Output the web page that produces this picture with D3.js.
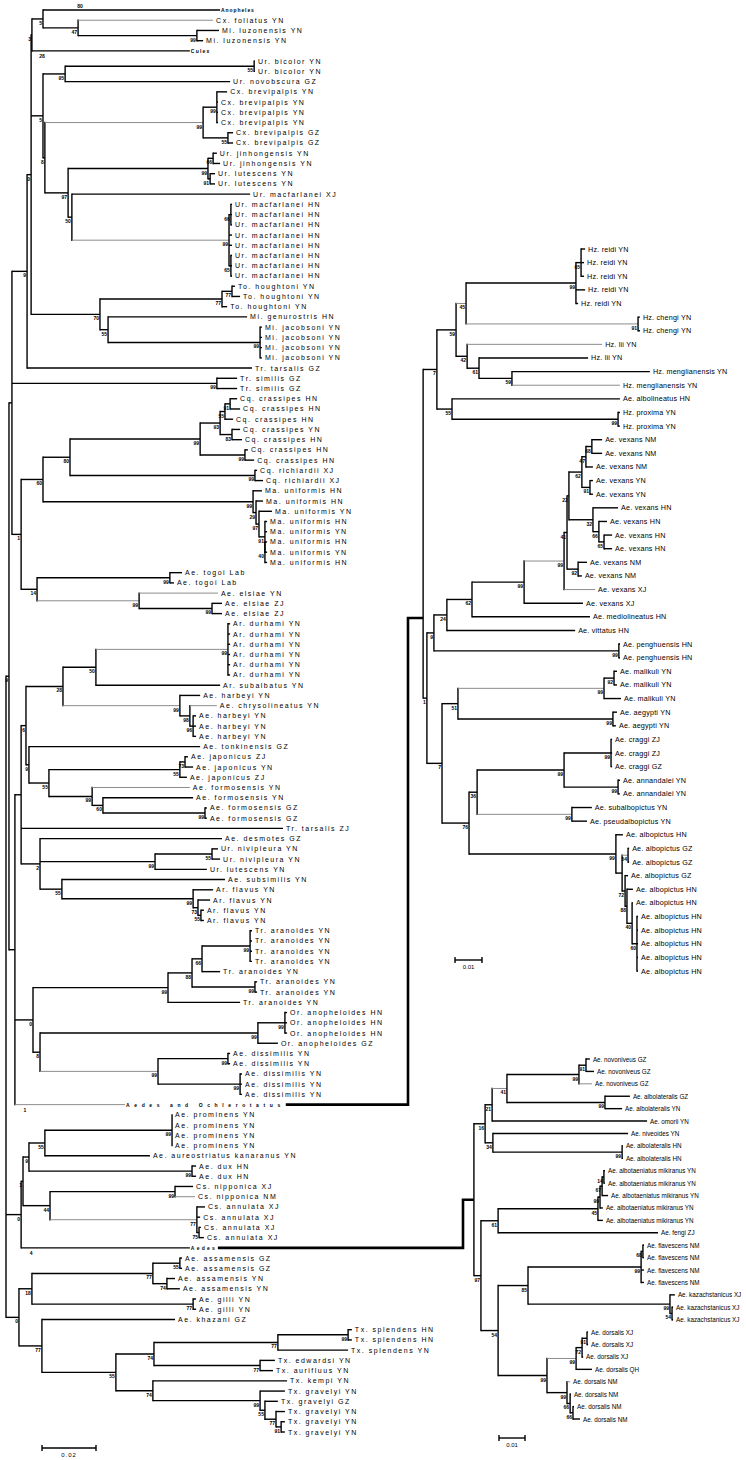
<!DOCTYPE html>
<html><head><meta charset="utf-8">
<script src="https://cdn.jsdelivr.net/npm/d3@7/dist/d3.min.js"></script>
<style>body{margin:0;background:#fff}</style>
</head><body>
<svg id="c" width="746" height="1460"></svg>
<script>
// ---- DATA: branch depths in units of 0.001 substitutions/site ----
// node = [depth, support, [children]] ; leaf = [depth, name]
const cladeUranotaenia = [9.3,"0",[
  [9.6,"3",[
    [13.7,"5",[
      [79.3,"Anopheles"],
      [26.7,"47",[[76.7,"Cx. foliatus YN"],[70.7,"99",[[78.9,"Mi. luzonensis YN"],[73,"Mi. luzonensis YN"]]]]]
    ]],
    [68.1,"Culex"]
  ]],
  [13.7,"5",[
    [21.9,"95",[[91.9,"55",[[92.2,"Ur. bicolor YN"],[92.2,"Ur. bicolor YN"]]],[83,"Ur. novobscura GZ"]]],
    [14.4,"8",[
      [73,"99",[
        [78.1,"99",[[81.9,"Cx. brevipalpis YN"],[78.5,"Cx. brevipalpis YN"],[78.5,"Cx. brevipalpis YN"],[78.5,"Cx. brevipalpis YN"]]],
        [82.2,"55",[[84.1,"Cx. brevipalpis GZ"],[84.1,"Cx. brevipalpis GZ"]]]
      ]],
      [23,"97",[
        [74.8,"99",[
          [76.7,"66",[[78.1,"Ur. jinhongensis YN"],[79.3,"Ur. jinhongensis YN"]]],
          [75.6,"91",[[77.4,"Ur. lutescens YN"],[77.4,"Ur. lutescens YN"]]]
        ]],
        [24.4,"50",[
          [90.4,"Ur. macfarlanei XJ"],
          [82.6,"99",[
            [83.3,"66",[[83.7,"Ur. macfarlanei HN"],[83.7,"Ur. macfarlanei HN"],[83.7,"Ur. macfarlanei HN"]]],
            [83.7,"Ur. macfarlanei HN"],[83.7,"Ur. macfarlanei HN"],
            [83.3,"65",[[83.7,"Ur. macfarlanei HN"],[83.7,"Ur. macfarlanei HN"],[83.7,"Ur. macfarlanei HN"]]]
          ]]
        ]]
      ]]
    ]]
  ]],
  [34.8,"70",[
    [80,"77",[[83.7,"77",[[84.8,"To. houghtoni YN"],[86.7,"To. houghtoni YN"]]],[81.9,"To. houghtoni YN"]]],
    [37.8,"55",[[89.3,"Mi. genurostris HN"],[94.1,"99",[[94.8,"Mi. jacobsoni YN"],[94.8,"Mi. jacobsoni YN"],[94.8,"Mi. jacobsoni YN"],[94.8,"Mi. jacobsoni YN"]]]]]
  ]]
]];
const cladeCoquillettidia = [5.6,"1",[
  [13.7,"60",[
    [23.7,"80",[
      [71.9,"99",[
        [79.3,"93",[
          [81.1,"55",[[83,"91",[[85.6,"Cq. crassipes HN"],[86.7,"Cq. crassipes HN"]]],[84.1,"Cq. crassipes HN"]]],
          [83.7,"83",[[86.7,"Cq. crassipes YN"],[87.4,"Cq. crassipes HN"]]]
        ]],
        [88.5,"99",[[89.6,"Cq. crassipes HN"],[91.9,"Cq. crassipes HN"]]]
      ]],
      [92.2,"99",[[93,"Cq. richiardii XJ"],[95.2,"Cq. richiardii XJ"]]]
    ]],
    [91.5,"99",[
      [94.8,"Ma. uniformis HN"],
      [92.6,"29",[
        [95.2,"Ma. uniformis HN"],
        [93.7,"97",[
          [98.5,"Ma. uniformis YN"],
          [95.9,"91",[[96.7,"Ma. uniformis HN"],[96.7,"Ma. uniformis YN"],
            [95.9,"40",[[96.7,"Ma. uniformis HN"],[96.7,"Ma. uniformis YN"],[96.7,"Ma. uniformis HN"]]]]]
        ]]
      ]]
    ]]
  ]],
  [11.5,"14",[
    [60.7,"99",[[65.2,"Ae. togoi Lab"],[62.2,"Ae. togoi Lab"]]],
    [49.3,"99",[[78.5,"Ae. elsiae YN"],[76.3,"99",[[80,"Ae. elsiae ZJ"],[80,"Ae. elsiae ZJ"]]]]]
  ]]
]];
const cladeArmigeres = [5.6,"",[
  [7.4,"6",[
    [21.1,"28",[
      [33.3,"50",[[82.2,"99",[[83,"Ar. durhami YN"],[83,"Ar. durhami YN"],[83,"Ar. durhami YN"],[83,"Ar. durhami YN"],[83,"Ar. durhami YN"],[83,"Ar. durhami YN"]]],[79.3,"Ar. subalbatus YN"]]],
      [64.4,"99",[[71.9,"Ae. harbeyi YN"],[68.1,"98",[[78.1,"Ae. chrysolineatus YN"],[69.3,"96",[[70.4,"Ae. harbeyi YN"],[70.4,"Ae. harbeyi YN"],[70.4,"Ae. harbeyi YN"]]]]]]]
    ]],
    [8.5,"9",[
      [71.9,"Ae. tonkinensis GZ"],
      [15.9,"55",[
        [64.4,"55",[[66.3,"73",[[67.4,"Ae. japonicus ZJ"],[69.3,"Ae. japonicus YN"]]],[67,"Ae. japonicus ZJ"]]],
        [31.9,"99",[[68.1,"Ae. formosensis YN"],[35.9,"60",[[69.3,"Ae. formosensis YN"],[73.7,"99",[[74.4,"Ae. formosensis GZ"],[74.4,"Ae. formosensis GZ"]]]]]]]
      ]]
    ]]
  ]],
  [102.6,"Tr. tarsalis ZJ"],
  [12.6,"2",[
    [80,"Ae. desmotes GZ"],
    [55.2,"99",[[76.3,"55",[[78.5,"Ur. nivipleura YN"],[79.3,"Ur. nivipleura YN"]]],[74.4,"Ur. lutescens YN"]]],
    [20.7,"55",[[81.1,"Ae. subsimilis YN"],[69.3,"99",[[76.7,"Ar. flavus YN"],[71.1,"73",[[75.6,"Ar. flavus YN"],[72.2,"55",[[73.3,"Ar. flavus YN"],[73.3,"Ar. flavus YN"]]]]]]]]]
  ]]
]];
const cladeTripteroides = [10,"0",[
  [60,"99",[
    [68.9,"88",[
      [72.6,"66",[[90.4,"99",[[91.1,"Tr. aranoides YN"],[91.1,"Tr. aranoides YN"],[91.1,"Tr. aranoides YN"],[91.1,"Tr. aranoides YN"]]],[79.3,"Tr. aranoides YN"]]],
      [92.2,"99",[[93,"Tr. aranoides YN"],[93,"Tr. aranoides YN"]]]
    ]],
    [86.7,"Tr. aranoides YN"]
  ]],
  [12.6,"8",[
    [93.3,"99",[[103.3,"99",[[104.1,"Or. anopheloides HN"],[104.1,"Or. anopheloides HN"],[104.1,"Or. anopheloides HN"]]],[100.7,"Or. anopheloides GZ"]]],
    [56.3,"99",[[82.2,"99",[[83,"Ae. dissimilis YN"],[83,"Ae. dissimilis YN"]]],[86.7,"99",[[87.4,"Ae. dissimilis YN"],[87.4,"Ae. dissimilis YN"],[87.4,"Ae. dissimilis YN"]]]]]
  ]]
]];
const cladeCulisetaProminens = [5.6,"0",[
  [6.3,"1",[
    [8.5,"9",[
      [14.4,"55",[[61.5,"99",[[61.5,"Ae. prominens YN"],[61.5,"Ae. prominens YN"],[61.5,"Ae. prominens YN"],[61.5,"Ae. prominens YN"]]],[53.3,"Ae. aureostriatus kanaranus YN"]]],
      [68.9,"99",[[70.4,"Ae. dux HN"],[70.4,"Ae. dux HN"]]]
    ]],
    [16.3,"44",[
      [62.6,"99",[[69.3,"Cs. nipponica XJ"],[70,"Cs. nipponica NM"]]],
      [70.7,"77",[[73.7,"Cs. annulata XJ"],[71.9,"Cs. annulata XJ"],[71.5,"75",[[72.2,"Cs. annulata XJ"],[73.3,"Cs. annulata XJ"]]]]]
    ]]
  ]],
  [68.1,"Aedes"]
]];
const cladeToxorhynchites = [4.8,"0",[
  [9.6,"18",[
    [54.4,"77",[[64.4,"55",[[65.2,"Ae. assamensis GZ"],[65.2,"Ae. assamensis GZ"]]],[59.6,"74",[[62.6,"Ae. assamensis YN"],[64.4,"Ae. assamensis YN"]]]]],
    [69.3,"77",[[70.4,"Ae. gilli YN"],[70.4,"Ae. gilli YN"]]]
  ]],
  [13.3,"77",[
    [62.6,"Ae. khazani GZ"],
    [40.7,"55",[
      [54.8,"74",[
        [100.7,"77",[[126.7,"99",[[128.1,"Tx. splendens HN"],[128.1,"Tx. splendens HN"]]],[126.7,"Tx. splendens YN"]]],
        [94.1,"77",[[99.6,"Tx. edwardsi YN"],[98.9,"Tx. aurifluus YN"]]]
      ]],
      [54.4,"74",[
        [104.1,"Tx. kempi YN"],
        [94.1,"99",[[103.3,"Tx. gravelyi YN"],[95.9,"55",[[100.7,"Tx. gravelyi GZ"],[100,"77",[[103.3,"Tx. gravelyi YN"],[101.9,"91",[[103.3,"Tx. gravelyi YN"],[103.3,"Tx. gravelyi YN"]]]]]]]]]
      ]]
    ]]
  ]]
]];
const treeLeft = [0,"",[
  [1.1,"9",[
    [2.2,"",[
      [7.8,"9",[cladeUranotaenia,[91.1,"Tr. tarsalis GZ"]]],
      [78.1,"99",[[85.6,"Tr. similis GZ"],[85.6,"Tr. similis GZ"]]],
      cladeCoquillettidia
    ]],
    [3.3,"",[cladeArmigeres, cladeTripteroides, [44.1,"Aedes and Ochlerotatus"]]]
  ]],
  cladeCulisetaProminens,
  cladeToxorhynchites
]];

const treeRightTop = [5.6,"",[
  [10.7,"7",[
    [17.8,"59",[
      [21.5,"45",[
        [62.2,"99",[[64.1,"65",[[65.6,"Hz. reidi YN"],[65.2,"Hz. reidi YN"],[65.2,"Hz. reidi YN"]]],[65.6,"Hz. reidi YN"],[63,"Hz. reidi YN"]]],
        [85.2,"91",[[85.9,"Hz. chengi YN"],[85.9,"Hz. chengi YN"]]]
      ]],
      [21.9,"42",[[71.9,"Hz. lii YN"],[26.3,"61",[[66.7,"Hz. lii YN"],[38.5,"59",[[89.6,"Hz. menglianensis YN"],[78.5,"Hz. menglianensis YN"]]]]]]]
    ]],
    [16.3,"55",[[78.5,"Ae. albolineatus HN"],[77.8,"99",[[78.5,"Hz. proxima YN"],[78.5,"Hz. proxima YN"]]]]]
  ]],
  [7,"1",[
    [9.6,"9",[
      [14.4,"24",[
        [23.7,"62",[
          [43,"99",[
            [57.8,"99",[
              [58.9,"41",[
                [59.6,"22",[
                  [64.4,"62",[
                    [65.9,"47",[[68.1,"68",[[71.9,"Ae. vexans NM"],[71.9,"Ae. vexans NM"]]],[68.5,"Ae. vexans NM"]]],
                    [67.4,"91",[[68.5,"Ae. vexans YN"],[68.5,"Ae. vexans YN"]]]
                  ]],
                  [68.5,"32",[[77.8,"Ae. vexans HN"],[70.7,"66",[[73.7,"Ae. vexans HN"],[72.6,"65",[[75.6,"Ae. vexans HN"],[75.6,"Ae. vexans HN"]]]]]]]
                ]],
                [63,"92",[[66.3,"Ae. vexans NM"],[64.4,"Ae. vexans NM"]]]
              ]],
              [69.3,"Ae. vexans XJ"]
            ]],
            [64.8,"Ae. vexans XJ"]
          ]],
          [67.4,"Ae. mediolineatus HN"]
        ]],
        [61.9,"Ae. vittatus HN"]
      ]],
      [78.1,"99",[[78.5,"Ae. penghuensis HN"],[78.5,"Ae. penghuensis HN"]]]
    ]],
    [12.6,"7",[
      [18.5,"51",[
        [72.6,"99",[[76.3,"92",[[77.4,"Ae. malikuli YN"],[77.4,"Ae. malikuli YN"]]],[78.9,"Ae. malikuli YN"]]],
        [75.9,"99",[[77.4,"Ae. aegypti YN"],[77,"Ae. aegypti YN"]]]
      ]],
      [22.6,"76",[
        [25.6,"36",[
          [57.8,"99",[[75.2,"99",[[75.6,"Ae. craggi ZJ"],[75.6,"Ae. craggi ZJ"],[75.6,"Ae. craggi GZ"]]],[77.8,"99",[[78.5,"Ae. annandalei YN"],[78.5,"Ae. annandalei YN"]]]]],
          [60.7,"99",[[68.1,"Ae. subalbopictus YN"],[66.3,"Ae. pseudalbopictus YN"]]]
        ]],
        [77,"99",[
          [79.6,"Ae. albopictus HN"],
          [79.3,"",[
            [81.5,"54",[[81.9,"Ae. albopictus GZ"],[81.9,"Ae. albopictus GZ"]]],
            [80.4,"72",[[81.5,"Ae. albopictus GZ"],[81.1,"88",[[83.3,"Ae. albopictus HN"],[83,"40",[[83.3,"Ae. albopictus HN"],
              [84.8,"60",[[85.2,"Ae. albopictus HN"],[85.2,"Ae. albopictus HN"],[85.2,"Ae. albopictus HN"],[85.2,"Ae. albopictus HN"],[85.2,"Ae. albopictus HN"]]]]]]]]]
          ]]
        ]]
      ]]
    ]]
  ]]
]];

const treeRightBottom = [4.2,"",[
  [8.5,"16",[
    [11.2,"21",[
      [16.9,"41",[
        [44.6,"99",[[47.3,"91",[[48.8,"Ae. novoniveus GZ"],[50.4,"Ae. novoniveus GZ"]]],[49.6,"Ae. novoniveus GZ"]]],
        [54.6,"99",[[64.2,"Ae. albolateralis GZ"],[61.2,"Ae. albolateralis YN"]]]
      ]],
      [70.8,"Ae. omorii YN"]
    ]],
    [11.5,"34",[[63.5,"Ae. niveoides YN"],[61.2,"99",[[61.5,"Ae. albolateralis HN"],[61.5,"Ae. albolateralis HN"]]]]]
  ]],
  [6.9,"97",[
    [13.5,"61",[
      [51.9,"45",[
        [52.7,"99",[[53.5,"67",[[54.2,"14",[[54.6,"Ae. albotaeniatus mikiranus YN"],[54.6,"Ae. albotaeniatus mikiranus YN"]]],[55.8,"Ae. albotaeniatus mikiranus YN"]]],[53.8,"Ae. albotaeniatus mikiranus YN"]]],
        [53.8,"Ae. albotaeniatus mikiranus YN"]
      ]],
      [75,"Ae. fengi ZJ"]
    ]],
    [13.5,"54",[
      [25,"85",[
        [68.5,"99",[[69.2,"68",[[69.6,"Ae. flavescens NM"],[69.6,"Ae. flavescens NM"]]],[69.6,"Ae. flavescens NM"],[69.6,"Ae. flavescens NM"]]],
        [79.6,"99",[[81.5,"Ae. kazachstanicus XJ"],[80.4,"54",[[80.8,"Ae. kazachstanicus XJ"],[80.8,"Ae. kazachstanicus XJ"]]]]]
      ]],
      [32.3,"99",[
        [43.5,"99",[[45.8,"72",[[47.7,"91",[[48.1,"Ae. dorsalis XJ"],[48.1,"Ae. dorsalis XJ"]]],[46.2,"Ae. dorsalis XJ"]]],[49.6,"Ae. dorsalis QH"]]],
        [40,"99",[[41.2,"Ae. dorsalis NM"],[41.2,"66",[[41.5,"Ae. dorsalis NM"],[42.3,"66",[[42.7,"Ae. dorsalis NM"],[45,"Ae. dorsalis NM"]]]]]]]
      ]]
    ]]
  ]]
]];

const collapsedNames    = ["Anopheles","Culex","Aedes and Ochlerotatus","Aedes"];
const collapsedSupports = ["80","28","1","4"];
const scaleBarValues = [20, 10, 10];
const scaleBarLabels = ["0.02","0.01","0.01"];

// ---- STYLE: branches drawn in light grey (by leaf-index span of the node) ----
const greyLeft   = [[1,1],[8,13],[19,26],[57,59],[57,57],[60,65],[67,71],[68,68],[76,76],[102,106],[116,116],[117,120],[107,107]];
const greyRightTop = [[0,6],[5,6],[7,7],[10,10],[14,25],[25,25],[31,33],[41,42],[44,45]];
const greyRightBottom = [[0,4],[2,2],[22,25],[26,26]];

// ---- LAYOUT ----
const svg = d3.select("#c");
const xL  = d3.scaleLinear().domain([0, 20]).range([6, 60]);
const xRT = d3.scaleLinear().domain([0, 10]).range([408, 435]);
const xRB = d3.scaleLinear().domain([0, 10]).range([463, 489]);
const joinRightTopY = 618;

function drawTree(data, xs, yTop, yBot, leafFont, leafSpacing, greyList) {
  const root = d3.hierarchy(data, d => Array.isArray(d[2]) ? d[2] : null);
  const leaves = root.leaves();
  leaves.forEach((l, i) => l.idx = i);
  const ys = d3.scaleLinear().domain([0, leaves.length - 1]).range([yTop, yBot]);
  leaves.forEach((l, i) => l.py = ys(i));
  root.eachAfter(n => {
    n.px = xs(n.data[0]);
    if (n.children) n.py = (n.children[0].py + n.children[n.children.length - 1].py) / 2;
    const lv = n.leaves();
    n.span = [lv[0].idx, lv[lv.length - 1].idx];
  });
  const isGrey = n => greyList.some(s => s[0] === n.span[0] && s[1] === n.span[1]);
  const g = svg.append("g").attr("fill", "none");
  root.descendants().forEach(n => {
    if (n.parent) {
      const grey = isGrey(n);
      g.append("line").attr("x1", n.parent.px).attr("x2", n.px).attr("y1", n.py).attr("y2", n.py)
        .attr("stroke", grey ? "#8c8c8c" : "#000").attr("stroke-width", grey ? 1 : 1.4);
    }
    if (n.children) g.append("line").attr("x1", n.px).attr("x2", n.px)
      .attr("y1", n.children[0].py - 0.7).attr("y2", n.children[n.children.length - 1].py + 0.7)
      .attr("stroke", "#000").attr("stroke-width", 1.4);
  });
  const t = svg.append("g");
  root.descendants().forEach(n => {
    if (n.children) {
      if (n.data[1]) t.append("text").attr("x", n.px - 1).attr("y", n.py + 6)
        .attr("text-anchor", "end").attr("font-family", "Liberation Sans").attr("font-weight", "bold")
        .attr("font-size", 5).text(n.data[1]);
    } else {
      const name = n.data[1];
      const ci = collapsedNames.indexOf(name);
      if (ci >= 0) {
        const ls = [0.9, 1.2, 4.6, 2.2][ci];
        n.label = t.append("text").attr("x", n.px + 1).attr("y", n.py + 2)
          .attr("font-family", "Liberation Sans").attr("font-weight", "bold").attr("font-size", 5)
          .attr("letter-spacing", ls).text(name);
        const above = ci === 0;
        t.append("text").attr("x", above ? n.parent.px + 37 : n.parent.px + 10)
          .attr("y", above ? n.py - 2 : n.py + 7).attr("text-anchor", "middle")
          .attr("font-family", "Liberation Sans").attr("font-weight", "bold").attr("font-size", 5)
          .text(collapsedSupports[ci]);
      } else {
        t.append("text").attr("x", n.px + 3).attr("y", n.py + 2.5)
          .attr("font-family", "Liberation Sans").attr("font-size", leafFont)
          .attr("letter-spacing", leafSpacing).text(name);
      }
    }
  });
  return root;
}

const rootL  = drawTree(treeLeft, xL, 10, 1432, 7, 1.5, greyLeft);
const rootRT = drawTree(treeRightTop, xRT, 249, 971, 7.2, 0.2, greyRightTop);
const rootRB = drawTree(treeRightBottom, xRB, 1059, 1419, 6.3, 0, greyRightBottom);

// connectors from collapsed clades to the expanded subtrees
function connect(name, subRoot, xs, joinY) {
  const leaf = rootL.leaves().find(l => l.data[1] === name);
  const node = leaf.label.node();
  const xEnd = leaf.px + 1 + node.getComputedTextLength() + 1;
  svg.append("path").attr("fill", "none").attr("stroke", "#000").attr("stroke-width", 2.6)
    .attr("d", `M${xEnd},${leaf.py}H${xs(0)}V${joinY}H${subRoot.px}`);
}
connect("Aedes and Ochlerotatus", rootRT, xRT, joinRightTopY);
connect("Aedes", rootRB, xRB, rootRB.py);

// scale bars
const bars = [[xL, 42, 1448], [xRT, 455, 960], [xRB, 499, 1438]];
bars.forEach(([xs, x0, y], i) => {
  const len = xs(scaleBarValues[i]) - xs(0);
  const g = svg.append("g").attr("stroke", "#000").attr("stroke-width", 1.4);
  g.append("line").attr("x1", x0).attr("x2", x0 + len).attr("y1", y).attr("y2", y);
  g.append("line").attr("x1", x0).attr("x2", x0).attr("y1", y - 3).attr("y2", y + 3);
  g.append("line").attr("x1", x0 + len).attr("x2", x0 + len).attr("y1", y - 3).attr("y2", y + 3);
  svg.append("text").attr("x", x0 + len / 2).attr("y", y + 9).attr("text-anchor", "middle")
    .attr("font-family", "Liberation Sans").attr("font-size", 6).attr("letter-spacing", i === 0 ? 1 : 0)
    .text(scaleBarLabels[i]);
});
</script>
</body></html>
